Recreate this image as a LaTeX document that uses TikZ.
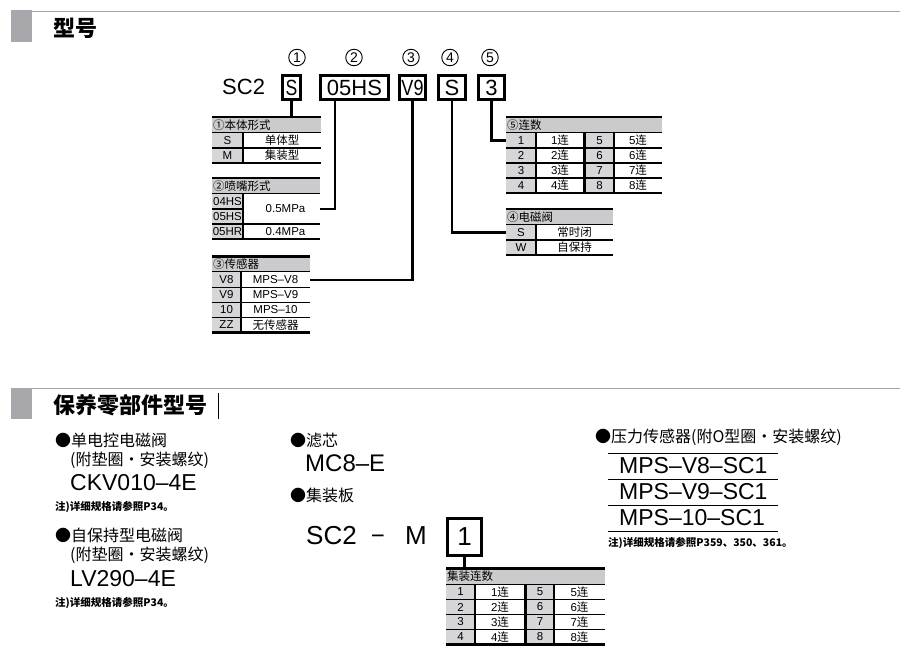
\documentclass[tikz,border=0pt]{standalone}
\usepackage{graphicx}
\usepackage{fontspec}
\setmainfont{Liberation Sans}
\newfontfamily\cjk{Noto Sans CJK SC}
\usepackage{tikz}
\usetikzlibrary{positioning}

\definecolor{hdgray}{RGB}{168,168,172}
\definecolor{rulegray}{RGB}{165,165,165}
\definecolor{titgray}{RGB}{203,203,205}
\definecolor{keygray}{RGB}{214,214,216}

\tikzset{
	hdtext/.style={anchor=west, inner sep=0pt, font=\cjk\bfseries\fontsize{22}{22}\selectfont},
	selbox/.style={draw, line width=2.8pt, minimum height=24.5pt, inner sep=0pt, font=\fontsize{22}{22}\selectfont},
	numcirc/.style={draw, circle, line width=0.9pt, minimum size=16.5pt, inner sep=0pt, font=\fontsize{14}{14}\selectfont},
	conn/.style={line width=2.7pt},
	barline/.style={line width=2.5pt},
	rowline/.style={line width=1.8pt},
	tline/.style={line width=1pt},
	ttl/.style={anchor=west, inner sep=1pt, font=\cjk\fontsize{11.5}{11.5}\selectfont},
	keycell/.style={fill=keygray, minimum height=15pt, inner sep=0pt, font=\fontsize{11.5}{11.5}\selectfont},
	valcell/.style={minimum height=15pt, inner sep=0pt, font=\fontsize{11.5}{11.5}\selectfont},
	bul/.style={anchor=west, inner sep=0pt, font=\cjk\fontsize{16}{16}\selectfont},
	model/.style={anchor=west, inner sep=0pt, font=\fontsize{23}{23}\selectfont},
	big/.style={anchor=west, inner sep=0pt, font=\fontsize{26}{26}\selectfont},
	note/.style={anchor=west, inner sep=0pt, font=\cjk\bfseries\fontsize{10.5}{10.5}\selectfont}
}

\begin{document}
\begin{tikzpicture}[x=1pt,y=-1pt]
	\useasboundingbox (0,0) rectangle (900,660);

	% headers
	\fill[hdgray] (11,10) rectangle (32,42);
	\draw[rulegray, line width=0.8pt] (32,11) -- (900,11);
	\node[hdtext] (h1) at (53,28) {型号};
	\fill[hdgray] (11,388) rectangle (32,419);
	\draw[rulegray, line width=0.8pt] (32,388.5) -- (900,388.5);
	\node[hdtext] (h2) at (53,405) {保养零部件型号};
	\draw[line width=0.6pt] (218,393) -- (218,419);

	% model code
	\node[anchor=west, inner sep=0pt, font=\fontsize{22}{22}\selectfont] (sc2) at (222,87) {SC2};
	\node[selbox, minimum width=18.5pt] (b1) at (291.5,87.5) {\scalebox{0.8}[1]{S}};
	\node[selbox, minimum width=68.5pt] (b2) at (354.5,87.5) {05HS};
	\node[selbox, minimum width=26.5pt] (b3) at (412.5,87.5) {\scalebox{0.82}[1]{V9}};
	\node[selbox, minimum width=27.5pt] (b4) at (452,87.5) {S};
	\node[selbox, minimum width=26.5pt] (b5) at (491.5,87.5) {3};
	\node[numcirc] (c1) at (297,57.5) {1};
	\node[numcirc] (c2) at (354,57.5) {2};
	\node[numcirc] (c3) at (411,57.5) {3};
	\node[numcirc] (c4) at (450,57.5) {4};
	\node[numcirc] (c5) at (490,57.5) {5};

	% 1 本体形式
	\coordinate (t1) at (212,117);
	\fill[titgray] (212,118) rectangle (321,132);
	\node[ttl] (t1t) at (212,125) {①本体形式};
	\foreach \k/\v [count=\i] in {S/单体型,M/集装型}{
		\node[keycell, minimum width=31pt] (t1k\i) at (227.5,125.5+15*\i) {\k};
		\node[valcell, minimum width=78pt] (t1v\i) at (282,125.5+15*\i) {\cjk\v};
	}
	\draw[tline] (212,132.5) -- (321,132.5);
	\draw[rowline] (212,148) -- (321,148) (243,133) -- (243,163);
	\draw[barline] (212,117) -- (321,117) (212,163) -- (321,163);

	% 2 喷嘴形式
	\fill[titgray] (212,179) rectangle (320,193);
	\node[ttl] (t2t) at (212,186) {②喷嘴形式};
	\foreach \k [count=\i] in {04HS,05HS,05HR}{
		\node[keycell, minimum width=31pt] (t2k\i) at (227.5,186.5+15*\i) {\k};
	}
	\node[valcell, minimum width=69pt, minimum height=30pt] (t2m) at (285.5,209) {0.5MPa};
	\node[valcell, minimum width=69pt] (t2v3) at (285.5,231.5) {0.4MPa};
	\draw[tline] (212,193.5) -- (320,193.5);
	\draw[rowline] (212,209) -- (243,209) (212,224) -- (320,224) (243,194) -- (243,239);
	\draw[barline] (212,178) -- (320,178) (212,239) -- (320,239);

	% 3 传感器
	\fill[titgray] (212,257.5) rectangle (310,271.5);
	\node[ttl] (t3t) at (212,264.5) {③传感器};
	\foreach \k/\v [count=\i] in {V8/MPS–V8,V9/MPS–V9,10/MPS–10,ZZ/{\cjk 无传感器}}{
		\node[keycell, minimum width=29pt] (t3k\i) at (226.5,265+15*\i) {\k};
		\node[valcell, minimum width=69pt] (t3v\i) at (275.5,265+15*\i) {\v};
	}
	\draw[tline] (212,272) -- (310,272);
	\draw[rowline] (212,287.5) -- (310,287.5) (212,302.5) -- (310,302.5) (212,317.5) -- (310,317.5) (241,272.5) -- (241,332.5);
	\draw[barline] (212,256.5) -- (310,256.5) (212,332.5) -- (310,332.5);

	% 5 连数
	\fill[titgray] (506,118) rectangle (662,132);
	\node[ttl] (t5t) at (506,125) {⑤连数};
	\foreach \i in {1,...,4}{
		\pgfmathtruncatemacro{\j}{\i+4}
		\node[keycell, minimum width=30pt] (t5k\i) at (521,125.5+15*\i) {\i};
		\node[valcell, minimum width=48pt] (t5v\i) at (560,125.5+15*\i) {\i{\cjk 连}};
		\node[keycell, minimum width=29pt] (t5l\i) at (599.5,125.5+15*\i) {\j};
		\node[valcell, minimum width=48pt] (t5w\i) at (638,125.5+15*\i) {\j{\cjk 连}};
	}
	\draw[tline] (506,132.5) -- (662,132.5);
	\draw[rowline] (506,148) -- (662,148) (506,163) -- (662,163) (506,178) -- (662,178);
	\draw[rowline] (536,133) -- (536,193) (614,133) -- (614,193);
	\draw[line width=3pt] (584.5,133) -- (584.5,193);
	\draw[barline] (506,117) -- (662,117) (506,193) -- (662,193);

	% 4 电磁阀
	\fill[titgray] (506,210) rectangle (613,224);
	\node[ttl] (t4t) at (506,217) {④电磁阀};
	\foreach \k/\v [count=\i] in {S/常时闭,W/自保持}{
		\node[keycell, minimum width=30pt] (t4k\i) at (521,217.5+15*\i) {\k};
		\node[valcell, minimum width=77pt] (t4v\i) at (574.5,217.5+15*\i) {\cjk\v};
	}
	\draw[tline] (506,224.5) -- (613,224.5);
	\draw[rowline] (506,240) -- (613,240) (536,225) -- (536,255);
	\draw[barline] (506,209) -- (613,209) (506,255) -- (613,255);

	% connectors
	\draw[conn] (b1.south) -- (b1.south |- t1);
	\draw[conn] ([xshift=16pt]b2.south west) |- (t2m.east);
	\draw[conn] (b3.south) |- (t3v1.east);
	\draw[conn] (b4.south) |- (t4k1.west);
	\draw[conn] (b5.south) |- (t5k1.west);

	% spare parts, left
	\node[bul] (p1) at (55,440) {●单电控电磁阀};
	\node[bul] (p1b) at (70,460) {(附垫圈・安装螺纹)};
	\node[model] (p1m) at (70,483) {CKV010–4E};
	\node[note] (p1n) at (55,507) {注)详细规格请参照P34。};
	\node[bul] (p2) at (55,535) {●自保持型电磁阀};
	\node[bul] (p2b) at (70,555) {(附垫圈・安装螺纹)};
	\node[model] (p2m) at (70,579) {LV290–4E};
	\node[note] (p2n) at (55,603) {注)详细规格请参照P34。};

	% spare parts, middle
	\node[bul] (q1) at (290,440) {●滤芯};
	\node[model, font=\fontsize{24}{24}\selectfont] (q1m) at (305,463) {MC8–E};
	\node[bul] (q2) at (290,495) {●集装板};
	\node[big] (q2a) at (306,536) {SC2};
	\node[big, right=15pt of q2a, yshift=-3pt] (q2b) {\scalebox{0.8}[1]{–}};
	\node[big] (q2c) at (405,536) {M};
	\node[selbox, minimum width=34pt, minimum height=37pt, font=\fontsize{26}{26}\selectfont] (m1) at (464.5,537) {1};

	% 集装连数
	\coordinate (t6) at (446,568.5);
	\fill[titgray] (446,569.5) rectangle (605,583.5);
	\node[ttl] (t6t) at (446,576.5) {集装连数};
	\foreach \i in {1,...,4}{
		\pgfmathtruncatemacro{\j}{\i+4}
		\node[keycell, minimum width=29pt] (t6k\i) at (460.5,577+15*\i) {\i};
		\node[valcell, minimum width=50pt] (t6v\i) at (500,577+15*\i) {\i{\cjk 连}};
		\node[keycell, minimum width=28pt] (t6l\i) at (540,577+15*\i) {\j};
		\node[valcell, minimum width=51pt] (t6w\i) at (579.5,577+15*\i) {\j{\cjk 连}};
	}
	\draw[tline] (446,584) -- (605,584);
	\draw[rowline] (446,599.5) -- (605,599.5) (446,614.5) -- (605,614.5) (446,629.5) -- (605,629.5);
	\draw[rowline] (475,584.5) -- (475,644.5) (554,584.5) -- (554,644.5);
	\draw[line width=3pt] (525.5,584.5) -- (525.5,644.5);
	\draw[barline] (446,568.5) -- (605,568.5) (446,644.5) -- (605,644.5);
	\draw[conn] (m1.south) -- (m1.south |- t6);

	% spare parts, right
	\node[bul] (r1) at (595,437) {●压力传感器(附O型圈・安装螺纹)};
	\foreach \y in {453,479,505,531}{
		\draw[line width=1pt] (608,\y) -- (778,\y);
	}
	\node[model] (r1a) at (619,466) {MPS–V8–SC1};
	\node[model] (r1b) at (619,492) {MPS–V9–SC1};
	\node[model] (r1c) at (619,517.5) {MPS–10–SC1};
	\node[note] (r1n) at (608,543) {注)详细规格请参照P359、350、361。};
\end{tikzpicture}
\end{document}
